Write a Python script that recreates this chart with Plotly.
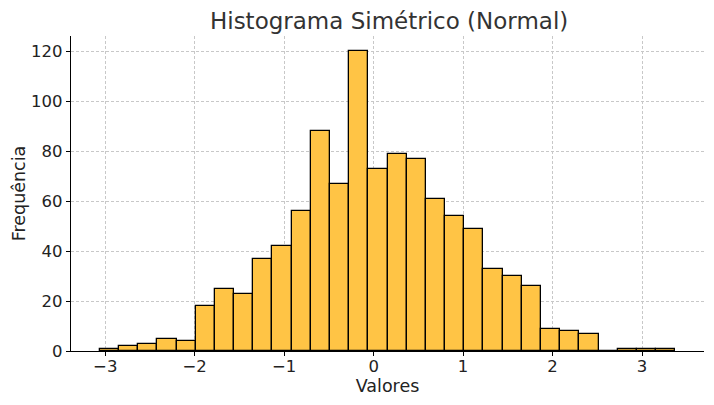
import plotly.graph_objects as go

bin_start = -3.061
bin_width = 0.2144
counts = [1, 2, 3, 5, 4, 18, 25, 23, 37, 42, 56, 88, 67, 120, 73, 79, 77, 61,
          54, 49, 33, 30, 26, 9, 8, 7, 0, 1, 1, 1]
x_ticks = [-3, -2, -1, 0, 1, 2, 3]
x_tick_labels = ["\u22123", "\u22122", "\u22121", "0", "1", "2", "3"]
y_ticks = [0, 20, 40, 60, 80, 100, 120]

centers = [bin_start + (i + 0.5) * bin_width for i in range(len(counts))]

fig = go.Figure()
fig.add_trace(go.Bar(
    x=centers, y=counts, width=[bin_width] * len(counts),
    marker=dict(color="#FFC445", line=dict(color="black", width=1.3)),
    hoverinfo="x+y",
))

axis_common = dict(
    showline=True, linecolor="black", linewidth=1.2,
    ticks="outside", ticklen=4, tickcolor="black", tickwidth=1,
    showgrid=True, gridcolor="#c8c8c8", griddash="3px,2px", gridwidth=1,
    zeroline=False, tickfont=dict(size=16.5, color="#222"), automargin=False,
)

x_lo = bin_start
x_hi = bin_start + bin_width * len(counts)
pad = 0.05 * (x_hi - x_lo)

fig.update_layout(
    width=714, height=405,
    margin=dict(l=71, r=10, t=36, b=54),
    paper_bgcolor="white", plot_bgcolor="white",
    font=dict(family="DejaVu Sans", color="#222"),
    title=dict(text="Histograma Simétrico (Normal)", x=0.545, xanchor="center",
               y=0.948, yanchor="middle", font=dict(size=23, color="#333")),
    showlegend=False, bargap=0,
    xaxis=dict(axis_common, range=[x_lo - pad, x_hi + pad], tickvals=x_ticks,
               ticktext=x_tick_labels, ticklabelstandoff=-4,
               title=dict(text="Valores", font=dict(size=17.5), standoff=0)),
    yaxis=dict(axis_common, range=[0, 126], tickvals=y_ticks,
               title=dict(text="Frequência", font=dict(size=17.5), standoff=0)),
)

fig.write_html("out.html")
